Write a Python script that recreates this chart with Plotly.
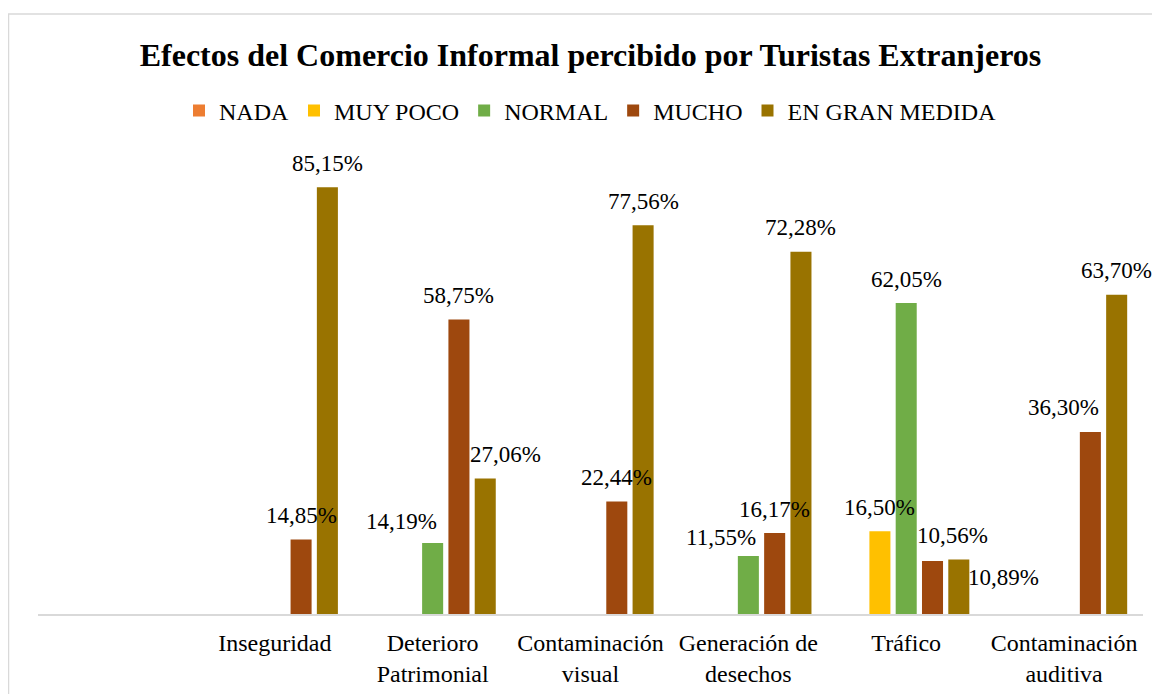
import plotly.graph_objects as go

categories = ["Inseguridad", "Deterioro<br>Patrimonial", "Contaminación<br>visual",
              "Generación de<br>desechos", "Tráfico", "Contaminación<br>auditiva"]
series_names = ["NADA", "MUY POCO", "NORMAL", "MUCHO", "EN GRAN MEDIDA"]
nada = [0, 0, 0, 0, 0, 0]
muy_poco = [0, 0, 0, 0, 16.50, 0]
normal = [0, 14.19, 0, 11.55, 62.05, 0]
mucho = [14.85, 58.75, 22.44, 16.17, 10.56, 36.30]
en_gran_medida = [85.15, 27.06, 77.56, 72.28, 10.89, 63.70]
series_values = [nada, muy_poco, normal, mucho, en_gran_medida]
colors = ["#ED7D31", "#FFC000", "#70AD47", "#9E480E", "#997300"]

# page body has an 8px margin: size the figure to fit the window
OFF = 8
W, H = 1160 - OFF, 694 - OFF
ML, MR, MT, MB = 38 - OFF, 17, 163 - OFF, 80
BARGAP, BARGROUPGAP = 0.167, 0.20
FONT = "Liberation Serif, Times New Roman, serif"

plot_w = W - ML - MR
plot_h = H - MT - MB
cat_px = plot_w / 7.0
slot_px = cat_px * (1 - BARGAP) / len(series_names)

# manual label placement adjustments (dx px, distance above bar top px)
label_adj = {
    (1, 2): (-31, 21),
    (1, 4): (20, 24),
    (3, 2): (-27, 19),
    (3, 3): (0, 23),
    (4, 3): (20, 26),
    (4, 4): (45, -18),
    (5, 3): (-27, 25),
}

fig = go.Figure()
for s, (name, vals, col) in enumerate(zip(series_names, series_values, colors)):
    fig.add_trace(go.Bar(name=name, x=categories, y=vals, marker_color=col,
                         marker_line_width=0))

annotations = []
for s, vals in enumerate(series_values):
    for c, v in enumerate(vals):
        if v <= 0:
            continue
        dx, dy = label_adj.get((c, s), (0, 24))
        annotations.append(dict(
            x=categories[c], y=v, xref="x", yref="y",
            text=f"{v:.2f}%".replace(".", ","), showarrow=False,
            xanchor="center", yanchor="middle",
            xshift=(s - 2) * slot_px + dx, yshift=dy,
            font=dict(family=FONT, size=23, color="black")))

# chart border (left at window x=8, top at window y=14)
fig.add_shape(type="rect", xref="paper", yref="paper",
              x0=(0.5 - ML) / plot_w, x1=(W + 20 - ML) / plot_w,
              y0=(-20 - MB) / plot_h, y1=(H - MB - (14 - OFF)) / plot_h,
              line=dict(color="#D9D9D9", width=1.5), fillcolor="rgba(0,0,0,0)", layer="below")

fig.update_layout(
    width=W, height=H,
    margin=dict(l=ML, r=MR, t=MT, b=MB, autoexpand=False),
    paper_bgcolor="white", plot_bgcolor="white",
    barmode="group", bargap=BARGAP, bargroupgap=BARGROUPGAP,
    title=dict(text="<b>Efectos del Comercio Informal percibido por Turistas Extranjeros</b>",
               x=0.5, xref="paper", xanchor="center",
               y=1 - (55 - OFF) / H, yref="container", yanchor="middle",
               font=dict(family=FONT, size=32, color="black")),
    legend=dict(orientation="h", x=0.5, xanchor="center",
                y=(H - MB - (111 - OFF)) / plot_h, yanchor="middle",
                font=dict(family=FONT, size=24, color="black"),
                traceorder="normal", bgcolor="rgba(0,0,0,0)"),
    xaxis=dict(type="category", range=[-1.5, 5.5], showgrid=False, ticks="",
               showline=True, linecolor="#D9D9D9", linewidth=2,
               tickfont=dict(family=FONT, size=24, color="black"),
               ticklabelstandoff=6,
               zeroline=False, fixedrange=True),
    yaxis=dict(range=[0, 90], visible=False, showgrid=False, zeroline=False),
    annotations=annotations,
    showlegend=True,
)

fig.write_html("out.html")
